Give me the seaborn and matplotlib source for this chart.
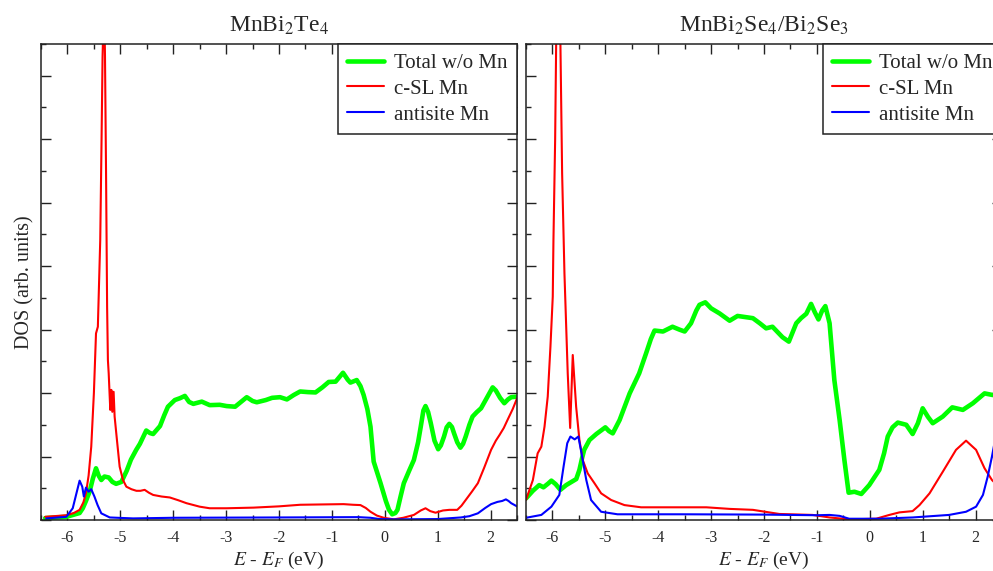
import matplotlib
matplotlib.use("Agg")
import matplotlib.pyplot as plt
from matplotlib.ticker import MultipleLocator, NullFormatter
import seaborn as sns
import pandas as pd

# ---------------- data ----------------
titles = [r"MnBi$_2$Te$_4$", r"MnBi$_2$Se$_4$/Bi$_2$Se$_3$"]
series_labels = ["Total w/o Mn", "c-SL Mn", "antisite Mn"]

left_total = [(-6.42, 0.06), (-6.02, 0.10), (-5.77, 0.22), (-5.71, 0.37), (-5.65, 0.60), (-5.58, 0.90),
              (-5.52, 1.30), (-5.46, 1.63), (-5.41, 1.40), (-5.36, 1.26), (-5.30, 1.37), (-5.22, 1.34),
              (-5.15, 1.20), (-5.08, 1.14), (-4.98, 1.20), (-4.88, 1.55), (-4.80, 1.90), (-4.70, 2.21),
              (-4.63, 2.40), (-4.51, 2.82), (-4.44, 2.74), (-4.38, 2.71), (-4.25, 2.96), (-4.17, 3.30),
              (-4.10, 3.57), (-3.97, 3.78), (-3.87, 3.84), (-3.78, 3.91), (-3.70, 3.72), (-3.62, 3.66),
              (-3.46, 3.73), (-3.31, 3.62), (-3.12, 3.63), (-2.99, 3.59), (-2.83, 3.57), (-2.72, 3.72),
              (-2.61, 3.87), (-2.50, 3.75), (-2.42, 3.71), (-2.25, 3.78), (-2.13, 3.85), (-1.98, 3.87),
              (-1.85, 3.80), (-1.72, 3.94), (-1.60, 4.05), (-1.45, 4.03), (-1.31, 4.02), (-1.18, 4.18),
              (-1.06, 4.35), (-0.93, 4.36), (-0.79, 4.64), (-0.70, 4.42), (-0.65, 4.33), (-0.53, 4.41),
              (-0.46, 4.22), (-0.40, 3.94), (-0.33, 3.50), (-0.27, 2.94), (-0.21, 1.84), (-0.08, 1.16),
              (0.02, 0.60), (0.08, 0.32), (0.14, 0.18), (0.20, 0.22), (0.24, 0.32), (0.30, 0.75),
              (0.36, 1.16), (0.46, 1.55), (0.55, 1.89), (0.63, 2.45), (0.68, 2.94), (0.73, 3.45),
              (0.77, 3.59), (0.82, 3.40), (0.87, 3.05), (0.94, 2.50), (1.01, 2.23), (1.06, 2.35),
              (1.12, 2.63), (1.17, 2.92), (1.22, 3.03), (1.27, 2.93), (1.31, 2.73), (1.37, 2.45),
              (1.43, 2.28), (1.48, 2.40), (1.53, 2.63), (1.60, 3.00), (1.66, 3.26), (1.74, 3.40),
              (1.82, 3.52), (1.93, 3.85), (2.04, 4.18), (2.10, 4.08), (2.18, 3.85), (2.26, 3.68),
              (2.33, 3.80), (2.39, 3.87), (2.51, 3.89)]

left_csl = [(-6.42, 0.10), (-6.02, 0.15), (-5.88, 0.22), (-5.77, 0.32), (-5.70, 0.55), (-5.65, 0.84),
            (-5.60, 1.40), (-5.55, 2.31), (-5.50, 4.00), (-5.46, 5.88), (-5.425, 6.09), (-5.38, 8.82),
            (-5.355, 11.98), (-5.336, 14.6), (-5.307, 16.5), (-5.29, 14.6), (-5.27, 10.93), (-5.25, 6.72),
            (-5.235, 5.04), (-5.22, 4.62), (-5.19, 3.47), (-5.17, 4.10), (-5.152, 3.41), (-5.127, 4.04),
            (-5.108, 3.26), (-5.064, 2.52), (-5.013, 1.68), (-4.95, 1.26), (-4.886, 1.05), (-4.79, 0.97),
            (-4.696, 0.92), (-4.62, 0.92), (-4.54, 0.95), (-4.46, 0.86), (-4.38, 0.79), (-4.22, 0.74),
            (-4.065, 0.71), (-3.90, 0.62), (-3.75, 0.53), (-3.50, 0.42), (-3.31, 0.37), (-2.99, 0.37),
            (-2.48, 0.39), (-2.00, 0.43), (-1.60, 0.48), (-1.20, 0.49), (-0.78, 0.50), (-0.60, 0.48),
            (-0.46, 0.47), (-0.36, 0.38), (-0.27, 0.26), (-0.15, 0.14), (-0.02, 0.07), (0.17, 0.02),
            (0.35, 0.07), (0.55, 0.16), (0.68, 0.30), (0.77, 0.37), (0.86, 0.28), (0.96, 0.23),
            (1.10, 0.30), (1.22, 0.32), (1.37, 0.32), (1.45, 0.45), (1.53, 0.63), (1.65, 0.90),
            (1.76, 1.16), (1.88, 1.65), (2.01, 2.21), (2.10, 2.50), (2.17, 2.68), (2.25, 2.90),
            (2.32, 3.15), (2.42, 3.50), (2.50, 3.83)]

left_anti = [(-6.40, 0.05), (-6.02, 0.10), (-5.90, 0.37), (-5.83, 0.84), (-5.77, 1.24), (-5.72, 1.05),
             (-5.69, 0.74), (-5.65, 1.02), (-5.60, 0.89), (-5.55, 0.97), (-5.49, 0.74), (-5.43, 0.47),
             (-5.36, 0.21), (-5.20, 0.08), (-4.76, 0.05), (-4.00, 0.07), (-2.00, 0.08), (-0.50, 0.09),
             (-0.27, 0.07), (-0.10, 0.03), (0.20, 0.02), (1.00, 0.03), (1.44, 0.08), (1.60, 0.12),
             (1.76, 0.21), (1.90, 0.38), (2.01, 0.50), (2.13, 0.57), (2.22, 0.60), (2.29, 0.65),
             (2.34, 0.60), (2.39, 0.53), (2.51, 0.42)]

right_total = [(-6.50, 0.68), (-6.37, 0.92), (-6.25, 1.10), (-6.17, 1.03), (-6.08, 1.15), (-6.02, 1.24),
               (-5.94, 1.13), (-5.85, 0.95), (-5.74, 1.10), (-5.55, 1.29), (-5.49, 1.58), (-5.44, 1.95),
               (-5.40, 2.21), (-5.30, 2.52), (-5.17, 2.71), (-5.00, 2.92), (-4.93, 2.80), (-4.86, 2.73),
               (-4.73, 3.15), (-4.54, 3.99), (-4.36, 4.62), (-4.23, 5.25), (-4.14, 5.70), (-4.07, 5.97),
               (-3.91, 5.94), (-3.73, 6.09), (-3.60, 6.00), (-3.50, 5.94), (-3.38, 6.20), (-3.28, 6.60),
               (-3.22, 6.78), (-3.11, 6.86), (-3.00, 6.67), (-2.84, 6.51), (-2.65, 6.28), (-2.50, 6.43),
               (-2.21, 6.36), (-2.08, 6.20), (-1.96, 6.04), (-1.84, 6.09), (-1.65, 5.76), (-1.53, 5.62),
               (-1.39, 6.20), (-1.30, 6.36), (-1.20, 6.50), (-1.11, 6.81), (-1.04, 6.55), (-0.97, 6.32),
               (-0.90, 6.60), (-0.84, 6.74), (-0.76, 6.20), (-0.67, 4.41), (-0.57, 3.15), (-0.48, 1.89),
               (-0.40, 0.86), (-0.29, 0.89), (-0.16, 0.82), (-0.01, 1.10), (0.18, 1.58), (0.27, 2.10),
               (0.34, 2.63), (0.43, 2.92), (0.53, 3.07), (0.69, 3.00), (0.81, 2.71), (0.91, 3.05),
               (1.00, 3.52), (1.10, 3.25), (1.19, 3.05), (1.38, 3.26), (1.56, 3.55), (1.76, 3.47),
               (1.95, 3.68), (2.17, 3.99), (2.32, 3.94), (2.50, 3.95)]

right_csl = [(-6.50, 0.63), (-6.37, 1.26), (-6.28, 2.10), (-6.21, 2.31), (-6.15, 2.94), (-6.089, 3.89),
             (-6.038, 5.46), (-5.994, 7.04), (-5.981, 8.82), (-5.949, 11.98), (-5.930, 14.97),
             (-5.89, 17.0), (-5.849, 14.97), (-5.817, 10.93), (-5.773, 7.77), (-5.711, 4.62),
             (-5.665, 2.90), (-5.616, 5.20), (-5.552, 3.57), (-5.49, 2.52), (-5.427, 1.89),
             (-5.333, 1.47), (-5.206, 1.16), (-5.079, 0.84), (-4.89, 0.63), (-4.639, 0.47),
             (-4.323, 0.40), (-3.60, 0.40), (-3.09, 0.40), (-2.65, 0.35), (-2.21, 0.32), (-1.71, 0.19),
             (-1.08, 0.16), (-0.76, 0.08), (-0.39, 0.02), (0.12, 0.04), (0.37, 0.16), (0.56, 0.24),
             (0.81, 0.28), (0.94, 0.47), (1.13, 0.84), (1.38, 1.52), (1.63, 2.21), (1.82, 2.50),
             (2.01, 2.21), (2.17, 1.63), (2.31, 1.26), (2.50, 0.95)]

right_anti = [(-6.50, 0.07), (-6.21, 0.16), (-6.02, 0.42), (-5.87, 0.79), (-5.79, 1.68), (-5.72, 2.42),
              (-5.66, 2.63), (-5.58, 2.54), (-5.51, 2.63), (-5.45, 2.10), (-5.36, 1.26), (-5.27, 0.63),
              (-5.08, 0.26), (-4.77, 0.18), (-3.50, 0.18), (-2.00, 0.17), (-1.00, 0.15), (-0.76, 0.16),
              (-0.57, 0.13), (-0.39, 0.04), (0.18, 0.04), (0.81, 0.08), (1.50, 0.16), (1.82, 0.26),
              (2.01, 0.42), (2.14, 0.79), (2.23, 1.37), (2.31, 2.00), (2.40, 2.80), (2.50, 3.50)]

panels = [(left_total, left_csl, left_anti), (right_total, right_csl, right_anti)]
colors = ["#00ff00", "#ff0000", "#0000ff"]
widths = [3.3, 1.5, 1.5]

# ---------------- style ----------------
sns.set_style("ticks")
plt.rcParams["font.family"] = ["Liberation Serif", "DejaVu Serif"]
plt.rcParams["mathtext.fontset"] = "stix"
plt.rcParams["axes.unicode_minus"] = False

W, H = 993, 571
fig = plt.figure(figsize=(W / 100, H / 100), dpi=100)
axes = [fig.add_axes([41 / W, 51 / H, 476 / W, 476 / H]),
        fig.add_axes([526 / W, 51 / H, 476 / W, 476 / H])]

for ax, title, series in zip(axes, titles, panels):
    for data, lab, col, lw in zip(series, series_labels, colors, widths):
        df = pd.DataFrame(data, columns=["E", "DOS"])
        sns.lineplot(data=df, x="E", y="DOS", ax=ax, color=col, lw=lw, label=lab,
                     sort=False, estimator=None)
    ax.set_xlim(-6.5, 2.5)
    ax.set_ylim(0, 15)
    ax.xaxis.set_major_locator(MultipleLocator(1))
    ax.xaxis.set_minor_locator(MultipleLocator(0.5))
    ax.yaxis.set_major_locator(MultipleLocator(2))
    ax.yaxis.set_minor_locator(MultipleLocator(1))
    ax.yaxis.set_major_formatter(NullFormatter())
    ax.tick_params(which="both", direction="in", top=True, right=True, width=1.0,
                   color="#222222")
    ax.tick_params(which="major", length=7.2, labelsize=11.5, pad=7.5)
    ax.tick_params(which="minor", length=3.6)
    for sp in ax.spines.values():
        sp.set_linewidth(1.1)
        sp.set_color("#222222")
    ax.set_title(title, fontsize=17, pad=9)
    ax.set_xlabel(r"$E$ - $E_F$ (eV)", fontsize=14, labelpad=2.5)
    ax.set_ylabel("")
    leg = ax.legend(loc="upper right", borderaxespad=0, fancybox=False, framealpha=1,
                    edgecolor="#222222", fontsize=15, handlelength=1.75, handletextpad=0.5,
                    labelspacing=0.3, borderpad=0.45)
    leg.get_frame().set_linewidth(1.1)

axes[0].set_ylabel("DOS (arb. units)", fontsize=14.5, labelpad=-3)

fig.savefig("out.png", dpi=100)
